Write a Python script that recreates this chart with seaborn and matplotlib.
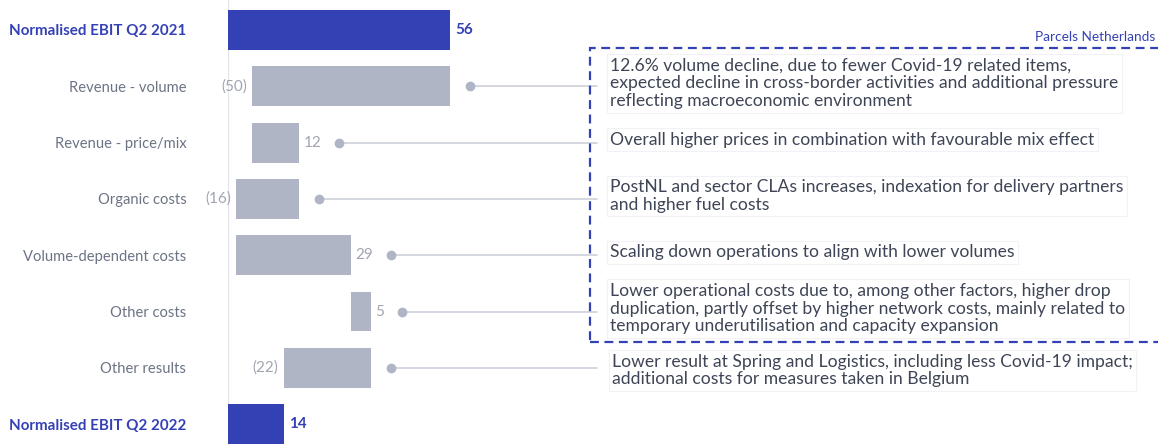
import numpy as np
import pandas as pd
import seaborn as sns
import matplotlib.pyplot as plt
from matplotlib.transforms import blended_transform_factory
from matplotlib.patches import Rectangle
from matplotlib.lines import Line2D

# ---------------- data ----------------
categories = ["Normalised EBIT Q2 2021", "Revenue - volume", "Revenue - price/mix",
              "Organic costs", "Volume-dependent costs", "Other costs",
              "Other results", "Normalised EBIT Q2 2022"]
values = [56, -50, 12, -16, 29, 5, -22, 14]
is_total = [True, False, False, False, False, False, False, True]
value_labels = ["56", "(50)", "12", "(16)", "29", "5", "(22)", "14"]
notes = [
    None,
    "12.6% volume decline, due to fewer Covid-19 related items,\nexpected decline in cross-border activities and additional pressure\nreflecting macroeconomic environment",
    "Overall higher prices in combination with favourable mix effect",
    "PostNL and sector CLAs increases, indexation for delivery partners\nand higher fuel costs",
    "Scaling down operations to align with lower volumes",
    "Lower operational costs due to, among other factors, higher drop\nduplication, partly offset by higher network costs, mainly related to\ntemporary underutilisation and capacity expansion",
    "Lower result at Spring and Logistics, including less Covid-19 impact;\nadditional costs for measures taken in Belgium",
    None,
]
segment_title = "Parcels Netherlands"
# ---------------------------------------

BLUE = "#3441b5"
GRAY_BAR = "#afb5c4"
GRAY_LABEL = "#6c7384"
GRAY_VAL = "#a0a5b1"
TEXT_DARK = "#3e4556"
LINE_GRAY = "#cdd1da"

# waterfall geometry computed from the values
lefts, widths = [], []
running = 0
for v, tot in zip(values, is_total):
    if tot:
        lefts.append(0)
        widths.append(v)
        running = v
    else:
        start, end = running, running + v
        lefts.append(min(start, end))
        widths.append(abs(v))
        running = end
df = pd.DataFrame({"category": categories, "width": widths, "left": lefts})

W, H = 1158, 445
sns.set_theme(style="white")
plt.rcParams["font.family"] = ["Lato", "DejaVu Sans"]
fig = plt.figure(figsize=(W / 100, H / 100), dpi=100)
ax = fig.add_axes([228 / W, 0, 1 - 228 / W, 1])

sns.barplot(data=df, y="category", x="width", left=df["left"].to_numpy(), orient="y",
            order=categories, width=0.71, color=GRAY_BAR, saturation=1,
            errorbar=None, ax=ax, linewidth=0)
for p, tot in zip(ax.patches, is_total):
    p.set_facecolor(BLUE if tot else GRAY_BAR)

ax.set_xlim(0, (W - 228) / 3.97)
ax.set_ylim(7.37, -0.53)
ax.axvline(0, color="#e2e4e9", lw=1.6, zorder=0)
for s in ax.spines.values():
    s.set_visible(False)
ax.set_xlabel("")
ax.set_ylabel("")
ax.set_xticks([])
ax.tick_params(axis="y", length=0, pad=30)
ax.set_yticks(range(len(categories)))
ax.set_yticklabels(categories)
for lbl, tot in zip(ax.get_yticklabels(), is_total):
    if tot:
        lbl.set_fontsize(10.9)
        lbl.set_color(BLUE)
        lbl.set_fontweight("bold")
    else:
        lbl.set_fontsize(10.6)
        lbl.set_color(GRAY_LABEL)

# value labels
PX = 0.72  # points per pixel
for i, (l, w, v, tot, lab) in enumerate(zip(lefts, widths, values, is_total, value_labels)):
    if tot:
        ax.annotate(lab, (l + w, i), xytext=(5 * PX, 0), textcoords="offset points",
                    ha="left", va="center", color=BLUE, fontsize=11, fontweight="bold")
    elif v > 0:
        ax.annotate(lab, (l + w, i), xytext=(4 * PX, 0), textcoords="offset points",
                    ha="left", va="center", color=GRAY_VAL, fontsize=11)
    else:
        ax.annotate(lab, (l, i), xytext=(-5 * PX, 0), textcoords="offset points",
                    ha="right", va="center", color=GRAY_VAL, fontsize=11)

# connectors and notes
fig.canvas.draw()
bt = blended_transform_factory(fig.transFigure, ax.transData)
note_x = 597
for i, (l, w, v, tot, lab, note) in enumerate(zip(lefts, widths, values, is_total, value_labels, notes)):
    if note is None:
        continue
    end_px = ax.transData.transform((l + w, i))[0]
    off = 20 if v < 0 else 22 + 9 * len(lab)
    dot_px = end_px + off
    ax.add_line(Line2D([dot_px / W, note_x / W], [i, i], transform=bt, color=LINE_GRAY,
                       lw=1.2, clip_on=False, zorder=1))
    ax.add_line(Line2D([dot_px / W], [i], transform=bt, marker="o", markersize=6,
                       color=GRAY_BAR, lw=0, clip_on=False, zorder=2))
    last = i == len(categories) - 2
    ax.text((612 if last else 610) / W, i - 0.05 + (0.1 if last else 0), note,
            transform=bt, ha="left", va="center",
            fontsize=12.6, color=TEXT_DARK, linespacing=1.13,
            bbox=dict(boxstyle="square,pad=0.2", fc="white", ec="#f1f2f5", lw=0.8))

# dashed segment box
rect = Rectangle((590 / W, 1 - 342 / H), (W + 10 - 590) / W, (342 - 48) / H,
                 transform=fig.transFigure, fill=False, edgecolor=BLUE, lw=1.6,
                 linestyle=(0, (4, 2.5)), clip_on=False)
fig.patches.append(rect)
fig.text(1155 / W, 1 - 37 / H, segment_title, ha="right", va="center",
         color=BLUE, fontsize=9.8)

fig.savefig("out.png", dpi=100)
